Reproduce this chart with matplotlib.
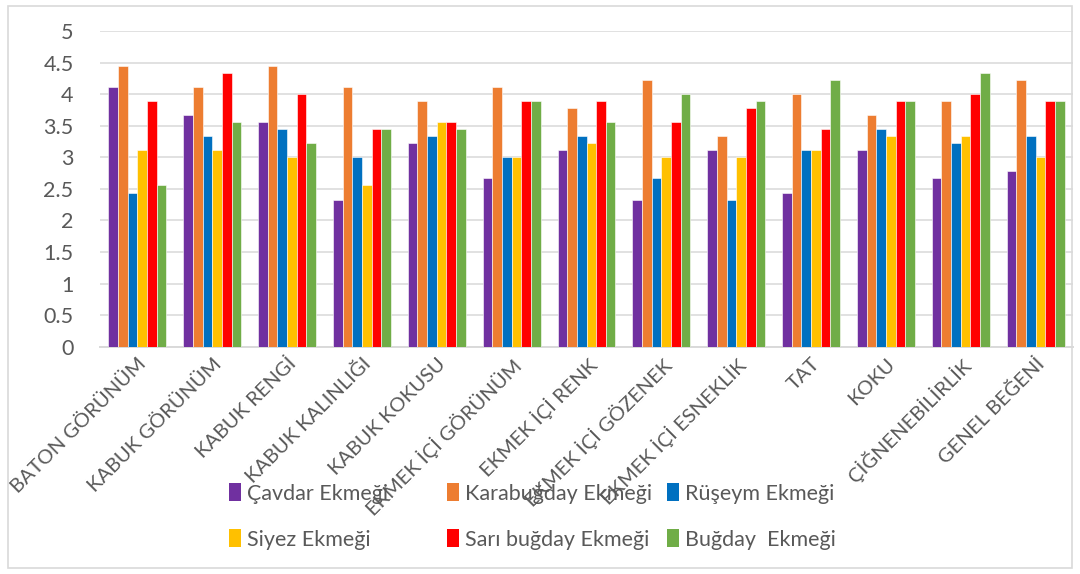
import matplotlib
matplotlib.use("Agg")
import matplotlib.pyplot as plt
from matplotlib.patches import Rectangle, Patch
import numpy as np

plt.rcParams['font.family'] = ['Lato', 'DejaVu Sans']

categories = ["BATON GÖRÜNÜM", "KABUK GÖRÜNÜM", "KABUK RENGİ", "KABUK KALINLIĞI",
              "KABUK KOKUSU", "EKMEK İÇİ GÖRÜNÜM", "EKMEK İÇİ RENK", "EKMEK İÇİ GÖZENEK",
              "EKMEK İÇİ ESNEKLİK", "TAT", "KOKU", "ÇİĞNENEBİLİRLİK", "GENEL BEĞENİ"]

cavdar     = [4.11, 3.67, 3.56, 2.33, 3.22, 2.67, 3.11, 2.33, 3.11, 2.44, 3.11, 2.67, 2.78]
karabugday = [4.44, 4.11, 4.44, 4.11, 3.89, 4.11, 3.78, 4.22, 3.33, 4.00, 3.67, 3.89, 4.22]
ruseym     = [2.44, 3.33, 3.44, 3.00, 3.33, 3.00, 3.33, 2.67, 2.33, 3.11, 3.44, 3.22, 3.33]
siyez      = [3.11, 3.11, 3.00, 2.56, 3.56, 3.00, 3.22, 3.00, 3.00, 3.11, 3.33, 3.33, 3.00]
saribugday = [3.89, 4.33, 4.00, 3.44, 3.56, 3.89, 3.89, 3.56, 3.78, 3.44, 3.89, 4.00, 3.89]
bugday     = [2.56, 3.56, 3.22, 3.44, 3.44, 3.89, 3.56, 4.00, 3.89, 4.22, 3.89, 4.33, 3.89]

series_names = ["Çavdar Ekmeği", "Karabuğday Ekmeği", "Rüşeym Ekmeği",
                "Siyez Ekmeği", "Sarı buğday Ekmeği", "Buğday  Ekmeği"]
series_vals = [cavdar, karabugday, ruseym, siyez, saribugday, bugday]
colors = ["#7030A0", "#ED7D31", "#0070C0", "#FFC000", "#FF0000", "#70AD47"]

yticks = [0, 0.5, 1, 1.5, 2, 2.5, 3, 3.5, 4, 4.5, 5]
ytick_labels = ["0", "0.5", "1", "1.5", "2", "2.5", "3", "3.5", "4", "4.5", "5"]

W, H = 1080, 574
fig = plt.figure(figsize=(W / 100, H / 100), dpi=100)
fig.patches.append(Rectangle((8 / W, 6 / H), (1072 - 8) / W, (568 - 6) / H,
                             transform=fig.transFigure, fill=False,
                             edgecolor="#d9d9d9", linewidth=1.2))

ax = fig.add_axes([100 / W, 1 - 346.7 / H, (1073 - 100) / W, (346.7 - 31) / H])

x = np.arange(len(categories))
bw = 0.129
handles = []
for k, (name, vals, c) in enumerate(zip(series_names, series_vals, colors)):
    ax.bar(x + (k - 2.5) * bw, vals, width=bw, color=c, edgecolor="white",
           linewidth=0.4, label=name, zorder=3)
    handles.append(Patch(facecolor=c, edgecolor="none", label=name))

ax.set_xlim(-0.5, len(categories) - 0.5)
ax.set_ylim(0, 5)
ax.set_yticks(yticks)
ax.set_yticklabels(ytick_labels, fontsize=15.5, color="#595959")
ax.yaxis.grid(True, color="#d9d9d9", linewidth=1.1, zorder=0)
ax.set_axisbelow(True)
for s in ["top", "right", "left"]:
    ax.spines[s].set_visible(False)
ax.spines["bottom"].set_color("#d9d9d9")
ax.spines["bottom"].set_linewidth(1.4)
ax.tick_params(axis="y", length=0, pad=19)
ax.tick_params(axis="x", length=0, pad=6)
ax.set_xticks(x)
ax.set_xticklabels(categories, rotation=45, ha="right", va="top",
                   rotation_mode="anchor", fontsize=14.5, color="#595959")

# Legend: three columns (two entries each), placed like the reference
col_x = [229, 447, 667]
for col in range(3):
    idx = [col, col + 3]
    fig.legend([handles[i] for i in idx], [series_names[i] for i in idx],
               loc="center left", bbox_to_anchor=(col_x[col] / W, 1 - 516.5 / H),
               frameon=False, fontsize=15.5, handlelength=0.55, handleheight=0.9,
               handletextpad=0.3, labelspacing=1.19, borderpad=0, borderaxespad=0,
               labelcolor="#595959")

fig.savefig("out.png", dpi=100)
